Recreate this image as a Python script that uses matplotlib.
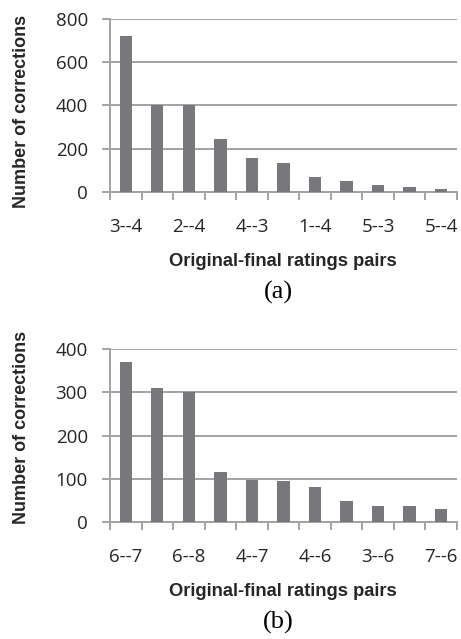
import matplotlib
matplotlib.use("Agg")
import matplotlib.pyplot as plt
import numpy as np

# Data
cats_a = ["3--4", "", "2--4", "", "4--3", "", "1--4", "", "5--3", "", "5--4"]
vals_a = [723, 401, 400, 247, 159, 136, 70, 51, 31, 23, 14]
cats_b = ["6--7", "", "6--8", "", "4--7", "", "4--6", "", "3--6", "", "7--6"]
vals_b = [371, 309, 300, 116, 98, 94, 80, 48, 37, 37, 30]
yticks_a = [0, 200, 400, 600, 800]
yticks_b = [0, 100, 200, 300, 400]

BAR = "#77787b"
GRID = "#a3a3a3"
TXT = "#262626"
tick_font = "Open Sans"
lab_font = "Liberation Sans"

fig = plt.figure(figsize=(4.61, 6.39), dpi=100)

def panel(rect, cats, vals, yticks, tag, tag_y, xl_y, ylab_y):
    ax = fig.add_axes(rect)
    n = len(vals)
    x = np.arange(n)
    ax.bar(x, vals, width=0.39, color=BAR, zorder=3)
    ax.set_xlim(-0.5, n - 0.5)
    ax.set_ylim(yticks[0], yticks[-1])
    ax.set_yticks(yticks)
    ax.set_yticklabels([str(t) for t in yticks], fontfamily=tick_font, fontsize=13.5, color=TXT)
    ax.yaxis.grid(True, color=GRID, linewidth=1.4, zorder=0)
    ax.tick_params(axis="y", length=6, color=GRID, width=1.4, pad=10)
    # category boundaries as major ticks, labels at centres
    ax.set_xticks(np.arange(n + 1) - 0.5)
    ax.set_xticklabels([])
    ax.set_xticks(x, minor=True)
    ax.set_xticklabels(cats, minor=True, fontfamily=tick_font, fontsize=13.5, color=TXT)
    ax.tick_params(axis="x", which="major", length=6, color=GRID, width=1.4)
    ax.tick_params(axis="x", which="minor", length=0, pad=19)
    for s in ["top", "right"]:
        ax.spines[s].set_visible(False)
    for s in ["left", "bottom"]:
        ax.spines[s].set_color(GRID)
        ax.spines[s].set_linewidth(1.4)
    ax.set_ylabel("Number of corrections", fontfamily=lab_font, fontweight="bold",
                  fontsize=13, color=TXT)
    ax.yaxis.set_label_coords(-0.231, ylab_y)
    fig.text(0.614, xl_y, "Original-final ratings pairs", fontfamily=lab_font,
             fontweight="bold", fontsize=13.2, color=TXT, ha="center", va="center")
    fig.text(0.603, tag_y, tag, fontfamily="Liberation Serif", fontsize=19,
             color="black", ha="center", va="center")
    return ax

panel([0.2386, 0.6995, 0.7524, 0.2708], cats_a, vals_a, yticks_a, "(a)",
      1 - 292 / 639, 1 - 262 / 639, 0.468)
panel([0.2386, 0.1831, 0.7524, 0.2707], cats_b, vals_b, yticks_b, "(b)",
      1 - 622 / 639, 1 - 592 / 639, 0.549)

fig.savefig("out.png", dpi=100)
